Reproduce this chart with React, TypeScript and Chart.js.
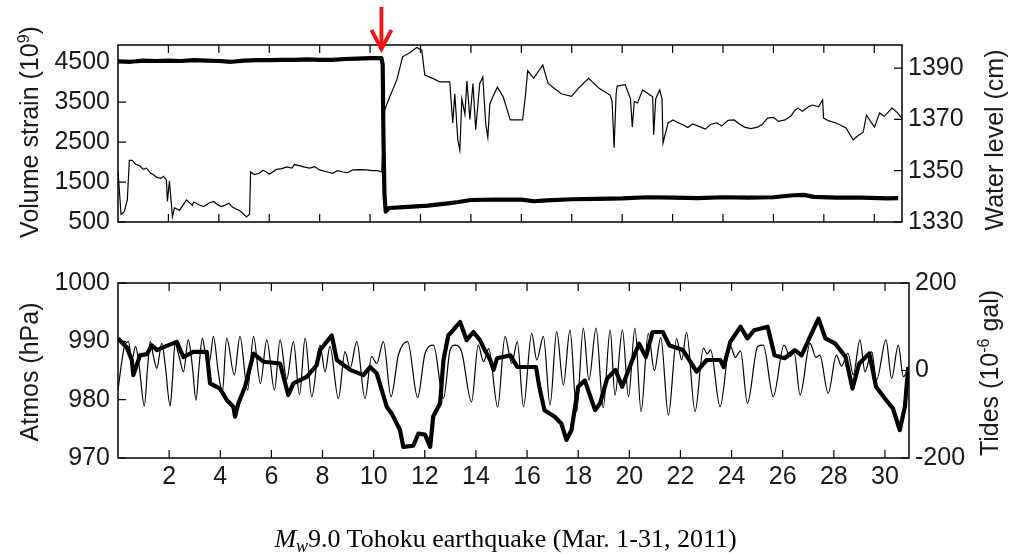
import React, { useEffect, useRef } from "react";
import { Chart, registerables } from "chart.js";

Chart.register(...registerables);

// ---------- tick labels ----------
const X_TICKS = [2, 4, 6, 8, 10, 12, 14, 16, 18, 20, 22, 24, 26, 28, 30];
const STRAIN_TICKS = [500, 1500, 2500, 3500, 4500];
const WATER_TICKS = [1330, 1350, 1370, 1390];
const ATMOS_TICKS = [970, 980, 990, 1000];
const TIDE_TICKS = [-200, 0, 200];
const QUAKE_DAY = 10.45;

// ---------- top panel: volume strain (thick, left axis) ----------
const STRAIN_DAYS = [0, 0.5, 1, 1.5, 2, 2.5, 3, 3.5, 4, 4.5, 5, 5.5, 6, 6.5, 7, 7.5, 8, 8.5, 9, 9.5, 10, 10.45, 10.5, 10.53, 10.57, 10.62, 10.75, 11.5, 12.3, 13.0, 13.5, 14.0, 15, 16, 16.5, 17, 18, 19, 20, 21, 22, 23, 24, 25, 26, 26.8, 27.2, 27.6, 28.5, 29.5, 30.5, 30.95];
const STRAIN_VALUES = [4520, 4510, 4540, 4530, 4540, 4530, 4550, 4540, 4530, 4510, 4540, 4550, 4550, 4560, 4560, 4570, 4560, 4560, 4580, 4590, 4600, 4600, 4450, 2600, 1200, 760, 850, 880, 910, 960, 1000, 1050, 1060, 1060, 1020, 1040, 1070, 1080, 1090, 1120, 1110, 1100, 1120, 1110, 1120, 1170, 1180, 1130, 1110, 1110, 1090, 1100];

// ---------- top panel: water level (thin, right axis) ----------
const WATER_DAYS = [0, 0.12, 0.25, 0.37, 0.45, 0.57, 0.7, 0.85, 1.0, 1.13, 1.3, 1.4, 1.52, 1.7, 1.8, 1.92, 1.96, 2.04, 2.16, 2.24, 2.44, 2.72, 2.95, 3.0, 3.23, 3.4, 3.63, 3.8, 3.91, 4.1, 4.23, 4.4, 4.54, 4.7, 4.82, 5.1, 5.22, 5.26, 5.4, 5.61, 5.75, 5.89, 6.0, 6.29, 6.5, 6.69, 6.9, 7.0, 7.2, 7.4, 7.6, 7.8, 7.99, 8.2, 8.51, 8.7, 8.91, 9.1, 9.31, 9.6, 9.87, 10.1, 10.3, 10.46, 10.58, 10.78, 11.06, 11.29, 11.57, 11.85, 12.05, 12.17, 12.49, 12.76, 13.16, 13.28, 13.36, 13.48, 13.56, 13.64, 13.76, 13.84, 13.96, 14.08, 14.19, 14.35, 14.47, 14.59, 14.67, 14.75, 14.87, 15.05, 15.28, 15.56, 16.05, 16.17, 16.25, 16.49, 16.85, 17.06, 17.58, 17.99, 18.27, 18.67, 19.07, 19.52, 19.6, 19.68, 19.76, 19.8, 20.12, 20.33, 20.4, 20.48, 20.61, 20.81, 21.21, 21.25, 21.33, 21.49, 21.58, 21.62, 21.82, 22.02, 22.2, 22.43, 22.6, 22.8, 23.11, 23.3, 23.5, 23.76, 23.95, 24.2, 24.44, 24.65, 24.85, 25.1, 25.37, 25.55, 25.77, 26.0, 26.2, 26.46, 26.7, 26.85, 26.98, 27.15, 27.39, 27.55, 27.79, 27.95, 27.99, 28.2, 28.48, 28.65, 28.88, 29.16, 29.35, 29.56, 29.69, 29.85, 30.01, 30.21, 30.4, 30.7, 30.9, 31.09];
const WATER_VALUES = [1350, 1333, 1334, 1338.6, 1354, 1354, 1352.5, 1352, 1350.5, 1351, 1349, 1348.5, 1347.5, 1347, 1347.8, 1346.4, 1338, 1346, 1332, 1335.5, 1334.6, 1338.6, 1336.5, 1337.8, 1336.6, 1336, 1337.5, 1338, 1337, 1336, 1336.5, 1337.3, 1335.8, 1335, 1334.5, 1332, 1333, 1349.5, 1348.5, 1349, 1350.2, 1349.5, 1348.6, 1350.5, 1350.8, 1351.5, 1351, 1352.4, 1352, 1351.4, 1351, 1351.6, 1350.3, 1349.8, 1349, 1350, 1349.5, 1349.2, 1350.3, 1350.4, 1350.3, 1350, 1350, 1349.5, 1373.7, 1378.8, 1385.4, 1394.4, 1396, 1398, 1397, 1387.3, 1386, 1384.6, 1384.6, 1368.6, 1380, 1362, 1358, 1378, 1372, 1385, 1370, 1384, 1366, 1384, 1386.5, 1368, 1363, 1376, 1378.8, 1382.6, 1378.8, 1369.8, 1369.8, 1380, 1389, 1386, 1391.2, 1384, 1380, 1379, 1382.2, 1386, 1382.2, 1379.5, 1377, 1359, 1380, 1383, 1383.5, 1378, 1367, 1377, 1376.4, 1381.5, 1378.8, 1364, 1378, 1381.5, 1378, 1360.8, 1368.6, 1369.8, 1368.8, 1367.8, 1366.8, 1368.2, 1367, 1366.2, 1368, 1368.6, 1367.4, 1369.6, 1369.8, 1368.2, 1367, 1366.4, 1367, 1368, 1370.5, 1370.8, 1369.2, 1369.8, 1371.4, 1373.6, 1374.4, 1373.2, 1374.9, 1375.6, 1374.9, 1377.6, 1370.5, 1369.4, 1368.6, 1367.8, 1366.7, 1362, 1363.6, 1365, 1371.7, 1369.2, 1367, 1372.5, 1371.2, 1374.4, 1372.8, 1370.5];

// ---------- bottom panel: atmospheric pressure (thick, left axis) ----------
const ATMOS_DAYS = [0, 0.34, 0.54, 0.6, 0.86, 1.13, 1.32, 1.53, 1.78, 2.3, 2.56, 2.94, 3.47, 3.6, 3.99, 4.26, 4.51, 4.58, 4.71, 4.97, 5.3, 5.69, 6.34, 6.66, 6.86, 7.38, 7.77, 7.9, 8.36, 8.56, 9.08, 9.6, 9.86, 10.12, 10.51, 10.71, 11.03, 11.16, 11.55, 11.75, 12.01, 12.21, 12.33, 12.6, 12.73, 12.92, 13.38, 13.64, 13.9, 14.16, 14.29, 14.56, 14.69, 14.83, 15.35, 15.62, 16.35, 16.48, 16.68, 17.07, 17.34, 17.54, 17.74, 18.0, 18.26, 18.66, 18.86, 19.13, 19.46, 19.72, 20.12, 20.38, 20.65, 20.91, 21.31, 21.57, 22.1, 22.63, 23.03, 23.56, 23.69, 23.95, 24.35, 24.62, 24.88, 25.41, 25.68, 26.07, 26.47, 26.74, 27.07, 27.4, 27.67, 28.06, 28.46, 28.73, 28.99, 29.39, 29.65, 30.05, 30.31, 30.58, 30.78, 30.91];
const ATMOS_VALUES = [990.5, 989, 986.8, 984.2, 987.6, 987.8, 989.3, 988.5, 989, 989.9, 987.3, 988.2, 988.2, 982.8, 981.9, 979.9, 978.8, 977.1, 979.4, 982.2, 987.9, 986.5, 986.2, 980.8, 982.8, 983.9, 985.9, 988.5, 991, 986.8, 985.1, 984.2, 985.6, 984.5, 978.8, 977.6, 974.8, 971.9, 972.1, 974.2, 974, 971.9, 977.1, 979.4, 986.8, 991, 993.3, 990.2, 991.6, 990.2, 989, 986.8, 985.1, 987.1, 987.6, 985.6, 985.6, 982.2, 978.2, 977.1, 975.9, 973.1, 974.8, 982.2, 983.3, 978.2, 979.4, 983.6, 985.1, 982.2, 986.8, 989.6, 987.3, 991.6, 991.6, 989.3, 988.5, 984.8, 986.8, 986.8, 985.6, 989.9, 992.5, 990.5, 991.9, 992.5, 987.6, 987.1, 988.5, 987.6, 990.8, 993.9, 990.5, 989.6, 987.3, 981.9, 986.2, 987.9, 982.2, 979.9, 978.5, 974.8, 978.8, 985.6];

// ---------- bottom panel: tides (thin, right axis) ----------
const TIDE_DAYS = [0, 0.12, 0.25, 0.41, 0.54, 0.69, 0.83, 1.03, 1.16, 1.26, 1.39, 1.52, 1.71, 1.84, 2.04, 2.13, 2.23, 2.39, 2.56, 2.75, 2.91, 3.05, 3.17, 3.3, 3.43, 3.58, 3.73, 3.93, 4.08, 4.25, 4.55, 4.77, 5.07, 5.3, 5.57, 5.82, 6.12, 6.34, 6.6, 6.86, 7.1, 7.32, 7.58, 7.9, 8.1, 8.29, 8.62, 8.88, 9.08, 9.34, 9.66, 9.92, 10.12, 10.38, 10.68, 10.97, 11.33, 11.72, 12.01, 12.34, 12.73, 12.99, 13.18, 13.44, 13.83, 14.09, 14.3, 14.5, 14.85, 15.14, 15.4, 15.62, 15.86, 16.18, 16.38, 16.64, 16.9, 17.16, 17.42, 17.68, 17.94, 18.2, 18.42, 18.7, 18.98, 19.25, 19.44, 19.73, 19.97, 20.22, 20.46, 20.74, 20.98, 21.23, 21.53, 21.85, 22.05, 22.24, 22.57, 22.9, 23.05, 23.18, 23.55, 23.94, 24.15, 24.35, 24.62, 25.02, 25.24, 25.63, 26.05, 26.29, 26.45, 26.68, 27.07, 27.3, 27.45, 27.78, 28.1, 28.3, 28.55, 28.76, 29.02, 29.22, 29.48, 29.67, 30.04, 30.26, 30.52, 30.72, 30.94];
const TIDE_VALUES = [-45, 9, 55, 66, 24, 55, 9, -81, 9, 66, 32, 5, 62, 16, -81, -22, 62, 32, -3, 70, 9, -68, 9, 74, 32, 20, 78, -7, -50, 74, -10, 78, -45, 78, -30, 70, -45, 70, -20, 66, -55, 74, -60, 58, -3, 55, -64, 43, 5, 66, -64, 32, 16, 66, -60, 36, 66, -62, 39, 58, -64, 47, 58, 43, -72, 58, 20, 50, -83, 78, 16, 66, -83, 85, 24, 78, -79, 89, -33, 93, -94, 97, -22, 97, -85, 93, -56, 93, -60, 97, -94, 85, 0, 75, -102, 73, 24, 88, -94, 51, 38, 47, -83, 58, 30, 45, -75, 55, 58, -60, 58, 32, 40, -56, 62, 30, 35, -52, 35, 10, 40, -10, 70, -3, 43, -22, 70, -18, 58, -14, 10];

const TICK_FONT = { family: "'Liberation Sans', Arial, sans-serif", size: 25 };
const TEXT_COLOR = "#1a1a1a";

const pairs = (xs: number[], ys: number[]) => xs.map((x, i) => ({ x, y: ys[i] }));

const framePlugin = {
  id: "frame",
  afterDatasetsDraw(chart: any, _args: any, opts: any) {
    const { ctx, chartArea: a, scales } = chart;
    ctx.save();
    ctx.strokeStyle = "#000";
    ctx.lineWidth = 1.5;
    ctx.strokeRect(a.left, a.top, a.right - a.left, a.bottom - a.top);
    const L = 8;
    ctx.lineWidth = 1.2;
    ctx.beginPath();
    for (const v of X_TICKS) {
      const x = scales.x.getPixelForValue(v);
      ctx.moveTo(x, a.top);
      ctx.lineTo(x, a.top + L);
      ctx.moveTo(x, a.bottom);
      ctx.lineTo(x, a.bottom - L);
    }
    for (const v of opts.left || []) {
      const y = scales.yL.getPixelForValue(v);
      ctx.moveTo(a.left, y);
      ctx.lineTo(a.left + L, y);
    }
    for (const v of opts.right || []) {
      const y = scales.yR.getPixelForValue(v);
      ctx.moveTo(a.right, y);
      ctx.lineTo(a.right - L, y);
    }
    ctx.stroke();
    if (opts.arrowAt !== undefined) {
      const x = scales.x.getPixelForValue(opts.arrowAt);
      const tip = a.top + 4;
      ctx.strokeStyle = "#f01414";
      ctx.lineWidth = 3.8;
      ctx.lineCap = "butt";
      ctx.beginPath();
      ctx.moveTo(x, 7);
      ctx.lineTo(x, tip - 2);
      ctx.stroke();
      ctx.beginPath();
      ctx.moveTo(x - 10, tip - 19);
      ctx.lineTo(x, tip);
      ctx.lineTo(x + 10, tip - 19);
      ctx.stroke();
    }
    ctx.restore();
  },
};

function yAxis(
  position: "left" | "right",
  min: number,
  max: number,
  ticks: number[],
  width: number
) {
  return {
    type: "linear",
    position,
    min,
    max,
    afterBuildTicks: (s: any) => {
      s.ticks = ticks.map((v) => ({ value: v }));
    },
    afterFit: (s: any) => {
      s.width = width;
    },
    grid: { display: false, drawTicks: false },
    border: { display: false },
    ticks: {
      font: TICK_FONT,
      color: TEXT_COLOR,
      padding: position === "left" ? 8 : 6,
      callback: (v: any) => String(v),
    },
  };
}

const W = 1011;

function TopPanel() {
  const ref = useRef<HTMLCanvasElement | null>(null);
  useEffect(() => {
    if (!ref.current) return;
    const chart = new Chart(ref.current, {
      type: "line",
      data: {
        datasets: [
          {
            label: "Volume strain",
            data: pairs(STRAIN_DAYS, STRAIN_VALUES),
            yAxisID: "yL",
            borderColor: "#000",
            borderWidth: 4.2,
            pointRadius: 0,
            borderJoinStyle: "round",
            tension: 0,
          },
          {
            label: "Water level",
            data: pairs(WATER_DAYS, WATER_VALUES),
            yAxisID: "yR",
            borderColor: "#000",
            borderWidth: 1.2,
            pointRadius: 0,
            tension: 0,
          },
        ],
      },
      options: {
        animation: false,
        responsive: false,
        events: [],
        layout: { padding: { left: 0, right: 0, top: 45, bottom: 28 } },
        plugins: {
          legend: { display: false },
          tooltip: { enabled: false },
          frame: { left: STRAIN_TICKS, right: WATER_TICKS, arrowAt: QUAKE_DAY },
        } as any,
        scales: {
          x: { type: "linear", min: 0, max: 31.1, display: false },
          yL: yAxis("left", 500, 4930, STRAIN_TICKS, 118),
          yR: yAxis("right", 1330, 1399, WATER_TICKS, W - 902),
        } as any,
      },
      plugins: [framePlugin as any],
    });
    return () => chart.destroy();
  }, []);
  return (
    <canvas
      ref={ref}
      width={W}
      height={250}
      style={{ position: "absolute", left: 0, top: 0, width: W, height: 250 }}
    />
  );
}

function BottomPanel() {
  const ref = useRef<HTMLCanvasElement | null>(null);
  useEffect(() => {
    if (!ref.current) return;
    const chart = new Chart(ref.current, {
      type: "line",
      data: {
        datasets: [
          {
            label: "Atmos",
            data: pairs(ATMOS_DAYS, ATMOS_VALUES),
            yAxisID: "yL",
            borderColor: "#000",
            borderWidth: 4.2,
            pointRadius: 0,
            borderJoinStyle: "round",
            tension: 0,
          },
          {
            label: "Tides",
            data: pairs(TIDE_DAYS, TIDE_VALUES),
            yAxisID: "yR",
            borderColor: "#000",
            borderWidth: 1.2,
            pointRadius: 0,
            cubicInterpolationMode: "monotone",
          },
        ],
      },
      options: {
        animation: false,
        responsive: false,
        events: [],
        layout: { padding: { left: 0, right: 0, top: 33, bottom: 56 } },
        plugins: {
          legend: { display: false },
          tooltip: { enabled: false },
          frame: { left: ATMOS_TICKS, right: TIDE_TICKS },
        } as any,
        scales: {
          x: {
            type: "linear",
            min: 0,
            max: 30.94,
            afterBuildTicks: (s: any) => {
              s.ticks = X_TICKS.map((v) => ({ value: v }));
            },
            afterFit: (s: any) => {
              s.height = 40;
            },
            grid: { display: false, drawTicks: false },
            border: { display: false },
            ticks: {
              font: TICK_FONT,
              color: TEXT_COLOR,
              padding: 4,
              autoSkip: false,
              maxRotation: 0,
              minRotation: 0,
              callback: (v: any) => String(v),
            },
          },
          yL: yAxis("left", 970, 1000, ATMOS_TICKS, 118),
          yR: yAxis("right", -200, 200, TIDE_TICKS, W - 909),
        } as any,
      },
      plugins: [framePlugin as any],
    });
    return () => chart.destroy();
  }, []);
  return (
    <canvas
      ref={ref}
      width={W}
      height={304}
      style={{ position: "absolute", left: 0, top: 250, width: W, height: 304 }}
    />
  );
}

const titleBase: React.CSSProperties = {
  position: "absolute",
  transform: "translate(-50%, -50%) rotate(-90deg)",
  whiteSpace: "nowrap",
  fontFamily: "'Liberation Sans', Arial, sans-serif",
  fontSize: 25,
  lineHeight: "28px",
  color: TEXT_COLOR,
};
const supStyle: React.CSSProperties = { fontSize: 16, verticalAlign: "9px", lineHeight: 0 };

export default function App() {
  return (
    <div
      style={{
        position: "absolute",
        left: 0,
        top: 0,
        width: W,
        height: 554,
        background: "#fff",
        overflow: "hidden",
      }}
    >
      <TopPanel />
      <BottomPanel />
      <div style={{ ...titleBase, left: 28.5, top: 132 }}>
        Volume strain (10<span style={supStyle}>9</span>)
      </div>
      <div style={{ ...titleBase, left: 994, top: 140 }}>Water level (cm)</div>
      <div style={{ ...titleBase, left: 29, top: 371.5 }}>Atmos (hPa)</div>
      <div style={{ ...titleBase, left: 989, top: 373 }}>
        Tides (10<span style={supStyle}>-6</span> gal)
      </div>
      <div
        style={{
          position: "absolute",
          left: 0,
          width: W,
          top: 524,
          textAlign: "center",
          fontFamily: "'Liberation Serif', 'Times New Roman', serif",
          fontSize: 26,
          lineHeight: "30px",
          color: "#000",
          whiteSpace: "nowrap",
        }}
      >
        <i>M</i>
        <sub style={{ fontSize: 18, lineHeight: 0, verticalAlign: "-5px" }}>
          <i>w</i>
        </sub>
        9.0 Tohoku earthquake (Mar. 1-31, 2011)
      </div>
    </div>
  );
}
